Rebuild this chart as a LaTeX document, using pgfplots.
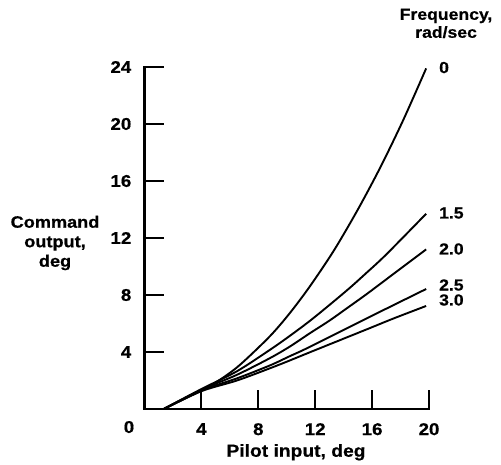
\documentclass[border=0pt]{standalone}
\usepackage{fontspec}
\setmainfont{Liberation Sans}[FakeStretch=1.1, BoldFeatures={FakeBold=0.6}]
\usepackage{pgfplots}
\pgfplotsset{compat=1.18}

\begin{document}
\begin{tikzpicture}
\useasboundingbox (-144.5pt,-56pt) rectangle (356.5pt,409pt);
\begin{axis}[
    at={(0pt,0pt)}, anchor=south west,
    scale only axis, width=284.5pt, height=342pt,
    xmin=0, xmax=20, ymin=0, ymax=24,
    axis x line*=bottom, axis y line*=left,
    axis line style={line width=2.6pt, line cap=rect},
    xtick={4,8,...,20}, ytick={4,8,...,24},
    tick align=inside, major tick length=19pt,
    tick style={line width=2pt, black},
    tick label style={font=\bfseries\fontsize{17}{19}\selectfont, inner sep=0pt},
    /pgf/number format/assume math mode=true,
    xticklabel style={yshift=-14pt},
    yticklabel style={xshift=-13pt},
    clip=false,
]

% frequency 0
\addplot[smooth, line width=1.9pt] coordinates {
    (1.35,0) (4,1.3) (5.3,2.05) (6.7,3.09) (8.8,5.09) (10.2,6.71) (11.6,8.57)
    (13.3,11.1) (15,14.0) (16.6,17.0) (18.2,20.3) (19.8,23.9)
};
% frequency 1.5
\addplot[smooth, line width=1.9pt] coordinates {
    (1.35,0) (4,1.4) (6.5,2.65) (8.8,4.14) (10.2,5.12) (11.85,6.36)
    (14.2,8.3) (15.6,9.55) (17,10.85) (19.8,13.7)
};
% frequency 2.0
\addplot[smooth, line width=1.9pt] coordinates {
    (1.35,0) (4,1.35) (6.5,2.4) (8.8,3.56) (10.2,4.37) (11.6,5.3)
    (13,6.2) (14.2,7.05) (15.6,8.05) (17,9.1) (19.8,11.2)
};
% frequency 2.5
\addplot[smooth, line width=1.9pt] coordinates {
    (1.35,0) (4,1.3) (6.5,2.15) (8.8,3.05) (10.2,3.7) (11.6,4.35)
    (15.6,6.35) (19.8,8.42)
};
% frequency 3.0
\addplot[smooth, line width=1.9pt] coordinates {
    (1.35,0) (4,1.25) (6.5,2.0) (8.8,2.85) (10.2,3.4) (11.6,3.97)
    (15.7,5.62) (17.5,6.35) (19.8,7.23)
};

\begin{scope}[every node/.style={font=\bfseries\fontsize{16}{19}\selectfont, inner sep=0pt}]
\node[anchor=west] at (axis cs:20.7,23.96) {0};
\node[anchor=west] at (axis cs:20.7,13.75) {1.5};
\node[anchor=west] at (axis cs:20.7,11.23) {2.0};
\node[anchor=west] at (axis cs:20.7,8.70) {2.5};
\node[anchor=west] at (axis cs:20.7,7.65) {3.0};
\node[anchor=base, font=\bfseries\fontsize{17}{19}\selectfont] at (axis cs:-1.09,-1.68) {0};
\end{scope}

\begin{scope}[every node/.style={inner sep=0pt, align=center}]
\node[anchor=north, font=\bfseries\fontsize{16}{18}\selectfont] at (axis cs:21.2,28.1) {Frequency,\\rad/sec};
\node[font=\bfseries\fontsize{16.5}{19.5}\selectfont] at (axis cs:-6.29,11.65) {Command\\output,\\deg};
\node[anchor=base, font=\bfseries\fontsize{17.5}{19}\selectfont] at (axis cs:10.65,-3.35) {Pilot input, deg};
\end{scope}

\end{axis}
\end{tikzpicture}
\end{document}
